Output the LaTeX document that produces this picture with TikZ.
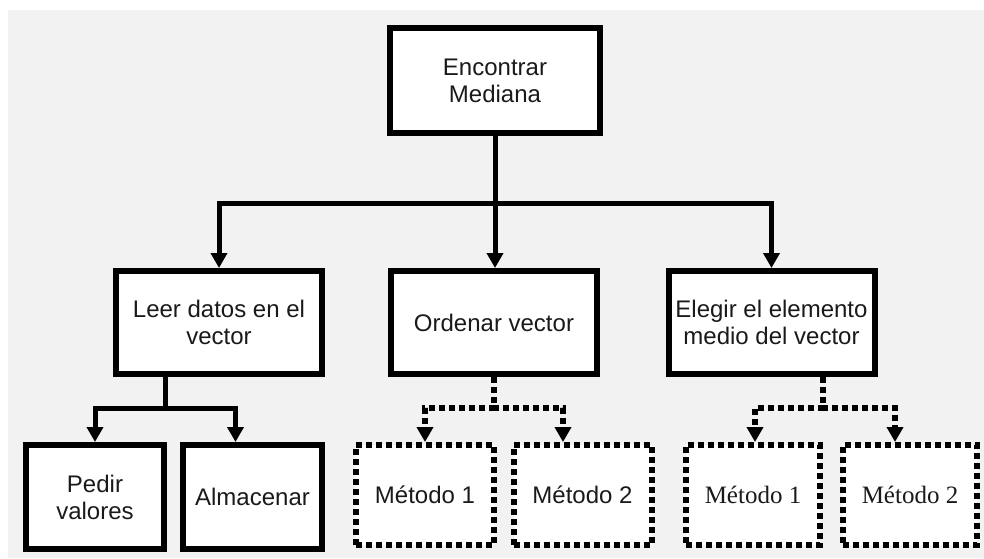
\documentclass[tikz,border=0pt]{standalone}
\usepackage{fontspec}
\setmainfont{Liberation Sans}
\newfontfamily\serifface{Liberation Serif}
\usetikzlibrary{arrows.meta,calc}
\definecolor{canvas}{HTML}{F2F2F2}
\definecolor{ink}{HTML}{1A1A1A}

\begin{document}
\begin{tikzpicture}[x=1pt,y=-1pt,
  box/.style={draw=black, fill=white, line width=6pt, align=center, text=ink,
    font=\fontsize{24}{27}\selectfont, inner sep=0pt},
  rootbox/.style={box, minimum width=210pt, minimum height=105pt},
  mainbox/.style={box, minimum width=206pt, minimum height=103pt},
  leafbox/.style={box, minimum width=138pt, minimum height=104pt},
  optbox/.style={box, line width=6pt, dash pattern=on 6pt off 4pt,
    minimum width=138pt, minimum height=100pt},
  serifbox/.style={optbox, minimum width=134pt,
    font=\serifface\fontsize{25}{28}\selectfont},
  link/.style={line width=5pt, -{Triangle[width=16pt,length=15pt]}},
  optlink/.style={link, line width=5.5pt, dash pattern=on 6pt off 4pt},
]
% canvas
\useasboundingbox (0,0) rectangle (984,558);
\fill[white] (0,0) rectangle (984,558);
\fill[canvas] (8,10) rectangle (984,558);

% boxes
\node[rootbox] (root) at (495,80.5) {Encontrar\\Mediana};

\node[mainbox] (leer)    at (219,322.5)   {Leer datos en el\\vector};
\node[mainbox] (ordenar) at (494,322.5)   {Ordenar vector};
\node[mainbox] (elegir)  at (771.5,322.5) {Elegir el elemento\\medio del vector};

\node[leafbox] (pedir)     at (95,497)    {Pedir\\valores};
\node[leafbox, minimum width=139pt] (almacenar) at (252.5,497) {Almacenar};

\node[optbox] (ordA) at (425,495)   {Método 1};
\node[optbox] (ordB) at (582.5,495) {Método 2};
\node[serifbox] (eleA) at (753,495) {Método 1};
\node[serifbox] (eleB) at (910,495) {Método 2};

% connectors from the root
\coordinate (bus) at (495,203);
\draw[link] (root.south) -- (bus) -| (leer.north);
\draw[link] (bus) -| (elegir.north);
\draw[link] (bus) -- (bus |- ordenar.north);

% connectors from "Leer datos"
\coordinate (leerbus) at ($(leer.south)+(-54,0)$);
\draw[link] (leerbus) -- ++(0,31) -| (pedir.north);
\draw[link] (leerbus) -- ++(0,31) -| ($(almacenar.north)+(-17,0)$);

% optional connectors from "Ordenar vector"
\draw[optlink] (ordenar.south) -- ++(0,31) -| (ordA.north);
\draw[optlink] (ordenar.south) -- ++(0,31) -| ($(ordB.north)+(-19.5,0)$);

% optional connectors from "Elegir el elemento"
\coordinate (elebus) at ($(elegir.south)+(51.5,0)$);
\draw[optlink] (elebus) -- ++(0,31) -| ($(eleA.north)+(2,0)$);
\draw[optlink] (elebus) -- ++(0,31) -| ($(eleB.north)+(-15,0)$);
\end{tikzpicture}
\end{document}
